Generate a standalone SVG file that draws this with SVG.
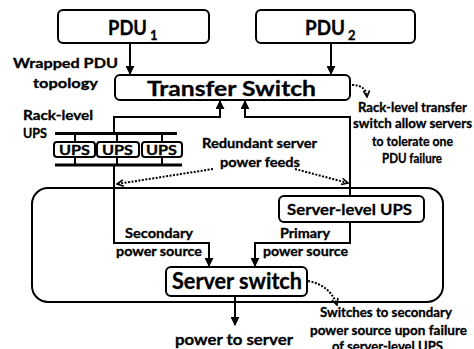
<svg xmlns="http://www.w3.org/2000/svg" width="474" height="349" viewBox="0 0 474 349">
<style>
text{font-family:Lato,"Open Sans","Liberation Sans",sans-serif;font-weight:bold;fill:#000;stroke:#000;stroke-width:0.3}
.box{fill:#fff;stroke:#000;stroke-width:2}
.ln{fill:none;stroke:#000;stroke-width:2}
.bar{fill:none;stroke:#000;stroke-width:3}
.dot{fill:none;stroke:#000;stroke-width:2;stroke-dasharray:2 1.5}
.s{font-size:13px}
.b{font-size:21px}
.sub{font-size:13px}
</style>
<defs>
<marker id="ah" viewBox="0 0 10 10" refX="9" refY="5" markerWidth="4.5" markerHeight="4.5" orient="auto" markerUnits="strokeWidth"><path d="M0,0 L10,5 L0,10 z" fill="#000"/></marker>
<marker id="oh" viewBox="0 0 10 10" refX="9" refY="5" markerWidth="4" markerHeight="4" orient="auto" markerUnits="strokeWidth"><path d="M1,1 L9,5 L1,9" fill="none" stroke="#000" stroke-width="2"/></marker>
</defs>
<rect id="server-enclosure" x="32" y="188" width="411" height="114" rx="16" style="fill:none;stroke:#000;stroke-width:2"/>
<g id="connectors">
<path class="ln" d="M130,43 V74" marker-end="url(#ah)"/>
<path class="ln" d="M331,43 V74" marker-end="url(#ah)"/>
<path class="ln" d="M114,133 V117 H220 V101" marker-end="url(#ah)"/>
<path class="ln" d="M350,196 V117 H245 V101" marker-end="url(#ah)"/>
<path class="ln" d="M114,165 V243 H209 V266" marker-end="url(#ah)"/>
<path class="ln" d="M350,222 V243 H255 V266" marker-end="url(#ah)"/>
<path class="ln" d="M235,296 V325" marker-end="url(#ah)"/>
<path class="dot" d="M213,169 L117,184" marker-end="url(#oh)"/>
<path class="dot" d="M295,169 L348,183" marker-end="url(#oh)"/>
<path class="dot" d="M352,85 Q366,85 367,97" marker-end="url(#oh)"/>
<path class="dot" d="M308,281 Q330,285 337,305" marker-end="url(#oh)"/>
</g>
<g id="pdu1"><rect x="58" y="10" width="151" height="33" rx="5" class="box"/><text x="108" y="35" class="b"><tspan textLength="39" lengthAdjust="spacingAndGlyphs">PDU</tspan><tspan class="sub" dx="3" dy="5">1</tspan></text></g>
<g id="pdu2"><rect x="256" y="10" width="159" height="33" rx="5" class="box"/><text x="305" y="35" class="b"><tspan textLength="40" lengthAdjust="spacingAndGlyphs">PDU</tspan><tspan class="sub" dx="3" dy="5">2</tspan></text></g>
<g id="transfer"><rect x="115" y="75" width="235" height="25" rx="5" class="box"/><text x="147" y="96" class="b" textLength="169" lengthAdjust="spacingAndGlyphs">Transfer Switch</text></g>
<g id="rack-ups">
<path class="bar" d="M55,133.5 H177 M55,165 H182"/>
<path class="ln" d="M75,134 V142 M117,134 V142 M162,134 V142 M75,157 V165 M117,157 V165 M162,157 V165"/>
<rect x="54" y="142" width="41" height="15" rx="3" class="box"/>
<rect x="97" y="142" width="42" height="15" rx="3" class="box"/>
<rect x="142" y="142" width="40" height="15" rx="3" class="box"/>
<text x="59" y="155" class="s" textLength="31" lengthAdjust="spacingAndGlyphs">UPS</text>
<text x="102" y="155" class="s" textLength="31" lengthAdjust="spacingAndGlyphs">UPS</text>
<text x="146" y="155" class="s" textLength="31" lengthAdjust="spacingAndGlyphs">UPS</text>
</g>
<g id="server-ups"><rect x="279" y="196" width="145" height="26" rx="5" class="box"/><text x="287" y="215" style="font-size:16px" textLength="125" lengthAdjust="spacingAndGlyphs">Server-level UPS</text></g>
<g id="server-switch"><rect x="166" y="267" width="141" height="29" rx="5" class="box"/><text x="172" y="289" style="font-size:22px" textLength="130" lengthAdjust="spacingAndGlyphs">Server switch</text></g>
<g id="labels">
<text x="13" y="68" class="s" textLength="105" lengthAdjust="spacingAndGlyphs">Wrapped PDU</text>
<text x="33" y="88" class="s" textLength="65" lengthAdjust="spacingAndGlyphs">topology</text>
<text x="23" y="120" class="s" textLength="70" lengthAdjust="spacingAndGlyphs">Rack-level</text>
<text x="23" y="138" class="s" textLength="24" lengthAdjust="spacingAndGlyphs">UPS</text>
<text x="202" y="148" class="s" textLength="115" lengthAdjust="spacingAndGlyphs">Redundant server</text>
<text x="220" y="167" class="s" textLength="80" lengthAdjust="spacingAndGlyphs">power feeds</text>
<text x="358" y="112" class="s" textLength="109" lengthAdjust="spacingAndGlyphs">Rack-level transfer</text>
<text x="353" y="128" class="s" textLength="119" lengthAdjust="spacingAndGlyphs">switch allow servers</text>
<text x="372" y="146" class="s" textLength="81" lengthAdjust="spacingAndGlyphs">to tolerate one</text>
<text x="382" y="163" class="s" textLength="60" lengthAdjust="spacingAndGlyphs">PDU failure</text>
<text x="125" y="238" class="s" textLength="68" lengthAdjust="spacingAndGlyphs">Secondary</text>
<text x="116" y="256" class="s" textLength="86" lengthAdjust="spacingAndGlyphs">power source</text>
<text x="280" y="238" class="s" textLength="50" lengthAdjust="spacingAndGlyphs">Primary</text>
<text x="263" y="256" class="s" textLength="85" lengthAdjust="spacingAndGlyphs">power source</text>
<text x="175" y="345" style="font-size:15px" textLength="118" lengthAdjust="spacingAndGlyphs">power to server</text>
<text x="320" y="317" class="s" textLength="132" lengthAdjust="spacingAndGlyphs">Switches to secondary</text>
<text x="310" y="335" class="s" textLength="157" lengthAdjust="spacingAndGlyphs">power source upon failure</text>
<text x="332" y="351" class="s" textLength="111" lengthAdjust="spacingAndGlyphs">of server-level UPS</text>
</g>
</svg>
